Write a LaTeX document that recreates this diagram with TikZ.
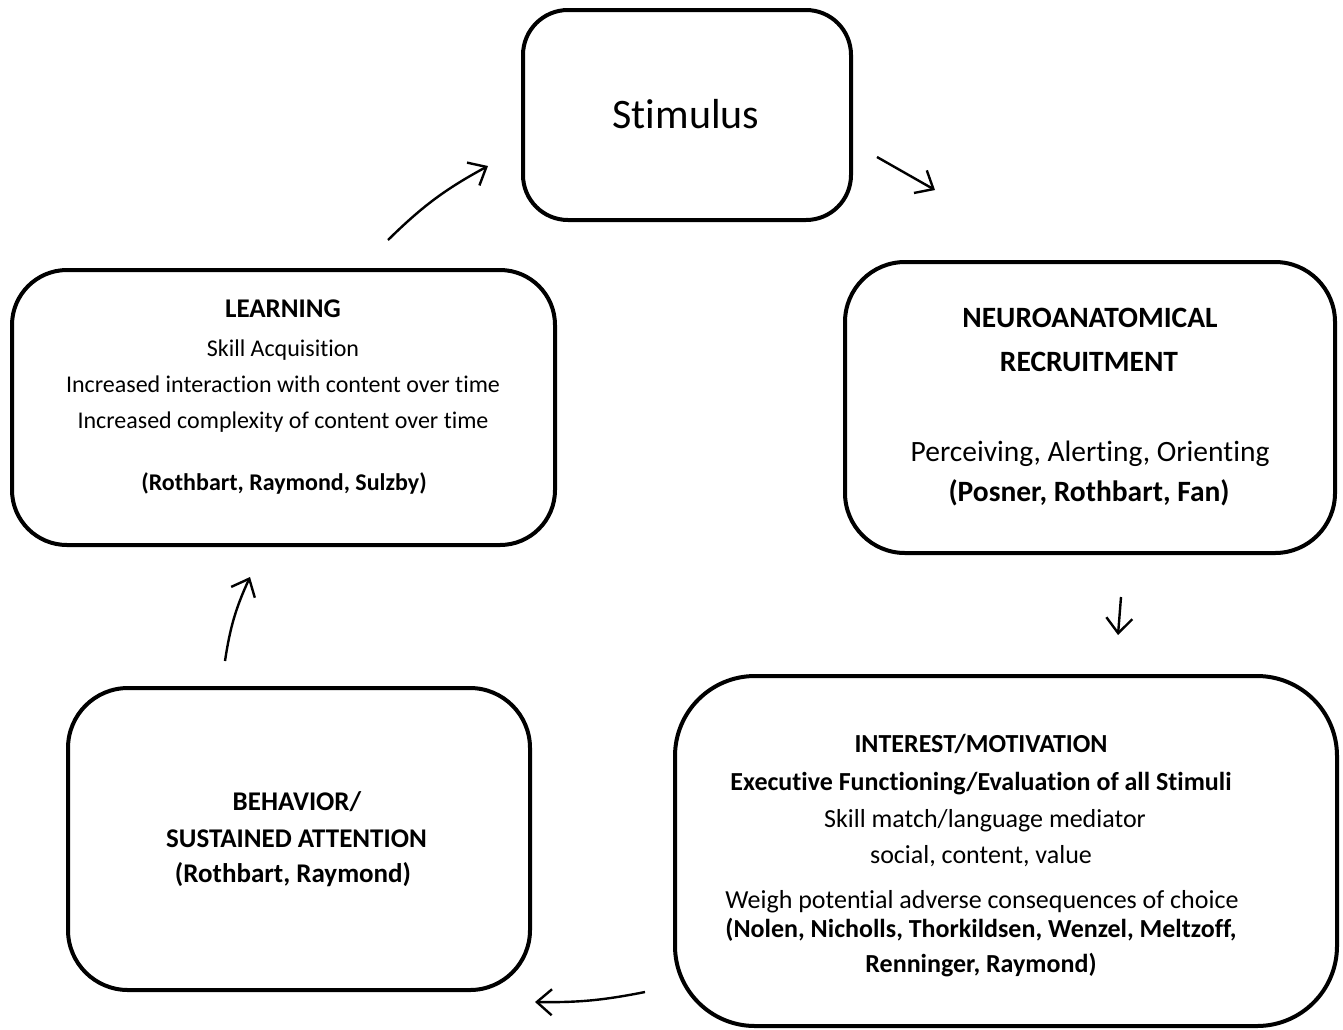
\documentclass[tikz,border=0pt]{standalone}
\usepackage{fontspec}
\setmainfont{Carlito}[Ligatures={NoCommon}]
\usetikzlibrary{arrows.meta}
\begin{document}
\begin{tikzpicture}[x=1pt,y=-1pt,
  box/.style={draw=black,line width=4pt,rounded corners=#1,inner sep=0pt},
  box/.default=50pt,
  txt/.style={inner sep=0pt,anchor=base},
  conn/.style={line width=2.4pt,-{Straight Barb[length=15pt,width=26pt,line width=2.4pt]}}]
\useasboundingbox (0,0) rectangle (1343,1029);
% boxes
\node[box=45pt,minimum width=328pt,minimum height=210pt] (stim) at (687,115) {};
\node[box=55pt,minimum width=543pt,minimum height=275pt] (learn) at (283.5,407.5) {};
\node[box=60pt,minimum width=490pt,minimum height=291pt] (neuro) at (1090,407.5) {};
\node[box=80pt,minimum width=662pt,minimum height=350pt] (inter) at (1006,851) {};
\node[box=60pt,minimum width=462pt,minimum height=302pt] (behav) at (299,839) {};
% texts
\node[txt,font=\fontsize{42}{46}\selectfont] (tstim) at (686,128) {Stimulus};
% learning
\node[txt,font=\fontsize{27}{30}\selectfont\bfseries] (l1) at (283,317) {LEARNING};
\begin{scope}[font=\fontsize{24}{28}\selectfont]
\node[txt] (l2) at (283,356) {Skill Acquisition};
\node[txt] (l3) at (283,392) {Increased interaction with content over time};
\node[txt] (l4) at (283,428) {Increased complexity of content over time};
\end{scope}
\node[txt,font=\fontsize{24}{28}\selectfont\bfseries] (l5) at (284,490) {(Rothbart, Raymond, Sulzby)};
% neuro
\begin{scope}[font=\fontsize{29.5}{33}\selectfont\bfseries]
\node[txt] (n1) at (1090,327) {NEUROANATOMICAL};
\node[txt] (n2) at (1089,371) {RECRUITMENT};
\node[txt] (n4) at (1089,501) {(Posner, Rothbart, Fan)};
\end{scope}
\node[txt,font=\fontsize{29.5}{33}\selectfont] (n3) at (1090,461) {Perceiving, Alerting, Orienting};
% interest
\begin{scope}[font=\fontsize{26}{30}\selectfont\bfseries]
\node[txt] (i1) at (981,752) {INTEREST/MOTIVATION};
\node[txt] (i2) at (981,790) {Executive Functioning/Evaluation of all Stimuli};
\node[txt] (i6) at (981,937) {(Nolen, Nicholls, Thorkildsen, Wenzel, Meltzoff,};
\node[txt] (i7) at (981,972) {Renninger, Raymond)};
\end{scope}
\begin{scope}[font=\fontsize{26}{30}\selectfont]
\node[txt] (i3) at (985,827) {Skill match/language mediator};
\node[txt] (i4) at (981,863) {social, content, value};
\node[txt] (i5) at (982,908) {Weigh potential adverse consequences of choice};
\end{scope}
% behavior
\begin{scope}[font=\fontsize{27}{30}\selectfont\bfseries]
\node[txt] (b1) at (297,810) {BEHAVIOR/};
\node[txt] (b2) at (296.5,847) {SUSTAINED ATTENTION};
\node[txt] (b3) at (293,882) {(Rothbart, Raymond)};
\end{scope}
% connector end points
\coordinate (a1s) at (388,240); \coordinate (a1e) at (488,166);
\coordinate (a2s) at (877,157); \coordinate (a2e) at (935,190);
\coordinate (a3s) at (1121,597); \coordinate (a3e) at (1118,635);
\coordinate (a4s) at (645,992); \coordinate (a4e) at (535,1002);
\coordinate (a5s) at (225,661); \coordinate (a5e) at (250,577);
\draw[conn] (a1s) to[bend left=8] (a1e);
\draw[conn] (a2s) -- (a2e);
\draw[conn] (a3s) -- (a3e);
\draw[conn] (a4s) to[bend left=6] (a4e);
\draw[conn] (a5s) to[bend left=8] (a5e);
\end{tikzpicture}
\end{document}
